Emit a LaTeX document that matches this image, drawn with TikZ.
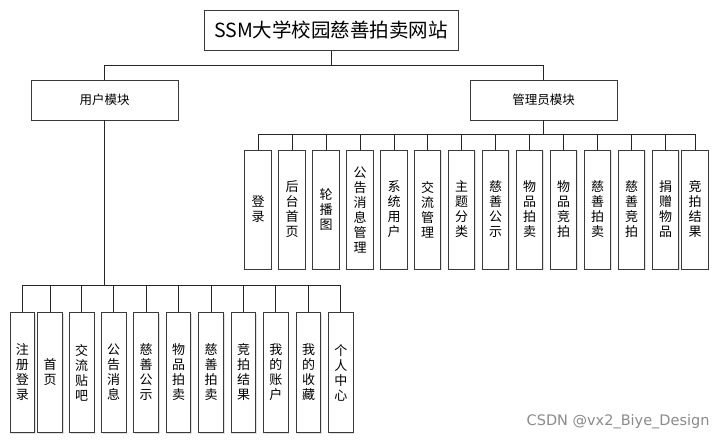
\documentclass[tikz,border=0pt]{standalone}
\usepackage{fontspec}
\setmainfont{Noto Sans CJK SC}
\newfontfamily\wmfont{DejaVu Sans}
\usepackage{xcolor}
\usepackage{tikz}
\usetikzlibrary{calc,positioning,shadows}

\definecolor{boxline}{HTML}{3A3A3A}
\definecolor{wmgray}{HTML}{8A8A8A}

\begin{document}
\begin{tikzpicture}[x=1pt,y=-1pt,line width=0.9pt,
  every node/.style={inner sep=0pt},
  box/.style={draw=boxline,fill=white,
    drop shadow={shadow xshift=1.2pt,shadow yshift=-1.2pt,fill=black!20,opacity=.6}},
  rootbox/.style={box,minimum width=254,minimum height=39.5,font=\fontsize{19.5}{22}\selectfont},
  modbox/.style={box,minimum width=147,minimum height=40,font=\fontsize{12.5}{15}\selectfont},
  adminbox/.style={box,minimum width=26.5,minimum height=119,align=center,font=\fontsize{13}{15}\selectfont},
  userbox/.style={box,minimum width=24.7,minimum height=119.6,align=center,font=\fontsize{13}{15}\selectfont},
  link/.style={draw=black!85}]
  \useasboundingbox (0,0) rectangle (722,443);

  % --- Top level ---
  \node[rootbox] (root) at (331,30.5) {SSM大学校园慈善拍卖网站};
  \node[modbox] (user) at (104.5,100) {用户模块};
  \node[modbox] (admin) at (543.5,100) {管理员模块};
  \coordinate (rbus) at (331,65);
  \draw[link] (root.south) -- (rbus);
  \draw[link] (rbus) -| (user.north);
  \draw[link] (rbus) -| (admin.north);

  % --- Admin module ---
  \coordinate (abus) at (543.5,134.5);
  \foreach \i/\x/\txt in {1/258/{登\\录},2/292/{后\\台\\首\\页},3/326/{轮\\播\\图},
      4/360/{公\\告\\消\\息\\管\\理},5/394/{系\\统\\用\\户},6/427.5/{交\\流\\管\\理},
      7/461.5/{主\\题\\分\\类},8/495.5/{慈\\善\\公\\示},9/529.5/{物\\品\\拍\\卖},
      10/563.5/{物\\品\\竞\\拍},11/597.5/{慈\\善\\拍\\卖},12/631.5/{慈\\善\\竞\\拍},
      13/665.5/{捐\\赠\\物\\品},14/695/{竞\\拍\\结\\果}}{
    \node[adminbox] (a\i) at (\x,209.5) {\txt};
    \draw[link] (abus) -| (a\i.north);
  }
  \draw[link] (admin.south) -- (abus);

  % --- User module ---
  \coordinate (ubus) at (104.5,285);
  \foreach \i/\x/\txt in {1/22.3/{注\\册\\登\\录},2/50/{首\\页},3/81.7/{交\\流\\贴\\吧},
      4/113.7/{公\\告\\消\\息},5/146/{慈\\善\\公\\示},6/178.5/{物\\品\\拍\\卖},
      7/211/{慈\\善\\拍\\卖},8/243.5/{竞\\拍\\结\\果},9/275.8/{我\\的\\账\\户},
      10/308.5/{我\\的\\收\\藏},11/340.8/{个\\人\\中\\心}}{
    \node[userbox] (u\i) at (\x,372.5) {\txt};
    \draw[link] (ubus) -| (u\i.north);
  }
  \draw[link] (user.south) -- (ubus);

  % watermark
  \node[font=\wmfont\fontsize{14.5}{16}\selectfont,text=wmgray,anchor=east] (mark) at (710,422) {CSDN @vx2\_Biye\_Design};
\end{tikzpicture}
\end{document}
